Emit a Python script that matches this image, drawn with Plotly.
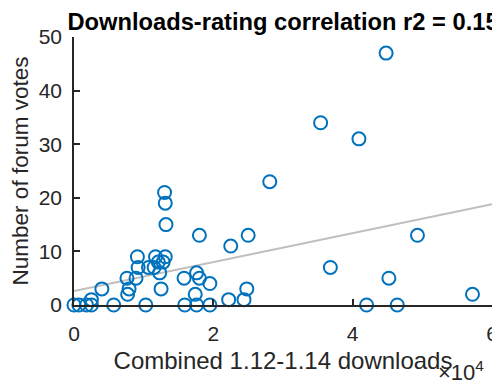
import plotly.graph_objects as go

# Combined downloads (in units of 1e4, scaled below) and forum votes
downloads_1e4 = [0.00, 0.07, 0.18, 0.25, 0.25, 0.40, 0.57, 0.77, 0.79, 0.76,
                 0.89, 0.91, 0.92, 1.03, 1.07, 1.15, 1.17, 1.21, 1.28, 1.31,
                 1.23, 1.25, 1.30, 1.31, 1.32, 1.58, 1.76, 1.80, 1.95, 1.74,
                 1.59, 1.76, 1.95, 1.80, 2.22, 2.44, 2.48, 2.25, 2.50, 2.81,
                 3.54, 4.09, 4.48, 4.93, 3.68, 4.52, 4.20, 4.64, 5.72]
votes = [0, 0, 0, 0, 1, 3, 0, 2, 3, 5,
         5, 9, 7, 0, 7, 7, 9, 8, 8, 9,
         6, 3, 21, 19, 15, 5, 6, 5, 4, 2,
         0, 0, 0, 13, 1, 1, 3, 11, 13, 23,
         34, 31, 47, 13, 7, 5, 0, 0, 2]
downloads = [v * 10000 for v in downloads_1e4]

# Linear fit line endpoints
fit_x = [0, 60000]
fit_y = [2.6, 18.8]

x_tickvals = [0, 20000, 40000, 60000]
x_ticktext = ["0", "2", "4", "6"]
y_tickvals = [0, 10, 20, 30, 40, 50]

FONT = "Liberation Sans, Arial, Helvetica, sans-serif"
AX = "#262626"

fig = go.Figure()
fig.add_trace(go.Scatter(x=fit_x, y=fit_y, mode="lines",
                         line=dict(color="#BFBFBF", width=2),
                         hoverinfo="skip", showlegend=False))
fig.add_trace(go.Scatter(x=downloads, y=votes, mode="markers",
                         marker=dict(symbol="circle-open", size=13,
                                     color="#0072BD",
                                     line=dict(color="#0072BD", width=2)),
                         cliponaxis=False, showlegend=False))

# page body adds an 8px offset; figure is sized to end at the window edge
fig.update_layout(
    width=492, height=376,
    margin=dict(l=66, r=8, t=29, b=79, autoexpand=False),
    paper_bgcolor="white", plot_bgcolor="white",
    font=dict(family=FONT, size=21, color=AX),
    title=dict(text="<b>Downloads-rating correlation r2 = 0.15</b>",
               x=0.559, xanchor="center", yref="container",
               y=0.964, yanchor="middle",
               font=dict(family=FONT, size=23.7, color="black")),
    xaxis=dict(range=[0, 60000], tickvals=x_tickvals, ticktext=x_ticktext,
               automargin=False,
               showline=True, linecolor=AX, linewidth=1.5, mirror=False,
               ticks="inside", ticklen=6, tickwidth=1.5, tickcolor=AX,
               showgrid=False, zeroline=False, ticklabelstandoff=9,
               tickfont=dict(size=21, color=AX),
               title=dict(text="Combined 1.12-1.14 downloads",
                          font=dict(size=24, color=AX), standoff=8)),
    yaxis=dict(range=[0, 50], tickvals=y_tickvals,
               automargin=False,
               showline=True, linecolor=AX, linewidth=1.5, mirror=False,
               ticks="inside", ticklen=6, tickwidth=1.5, tickcolor=AX,
               showgrid=False, zeroline=False, ticklabelstandoff=6,
               tickfont=dict(size=21, color=AX),
               title=dict(text="Number of forum votes",
                          font=dict(size=22.5, color=AX), standoff=10)),
)

fig.add_annotation(text="×10<sup>4</sup>", xref="paper", yref="paper",
                   x=0.985, y=-0.245, xanchor="right", yanchor="middle",
                   showarrow=False, font=dict(family=FONT, size=22, color=AX))

fig.write_html("out.html")
